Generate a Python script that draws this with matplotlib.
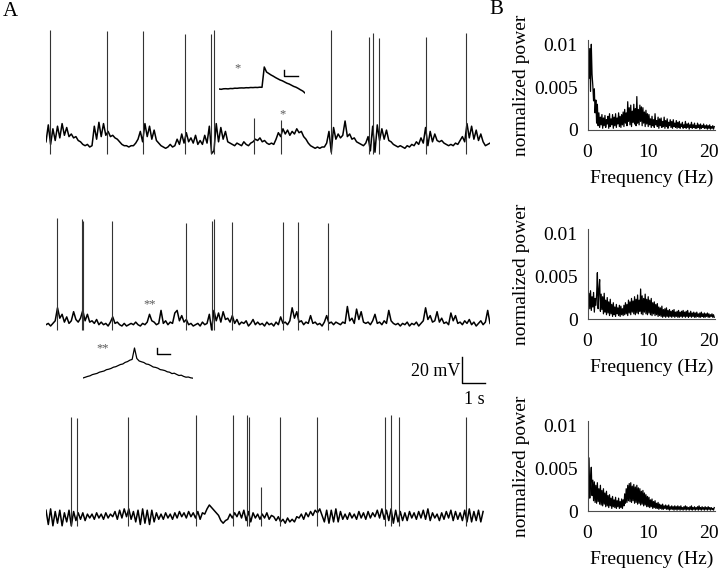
import matplotlib
matplotlib.use("Agg")
import matplotlib.pyplot as plt
import numpy as np

plt.rcParams['font.family'] = ['Liberation Serif', 'DejaVu Serif']

# ---- panel A: membrane potential traces (mV above resting level), 0.1 s samples
trace_dt = 0.1
trace1 = [4, 17, 2, 14, 5, 16, 7, 18, 9, 15,
          8, 10, 7, 8, 5, 4, 2, 1, 2, 0,
          1, 16, 6, 19, 8, 18, 9, 12, 8, 9,
          7, 6, 4, 2, 1, 1, 0, 1, 1, 3,
          6, 12, 4, 18, 8, 16, 6, 13, 5, 3,
          1, 0, -1, 0, 2, 0, 1, 6, 2, 10,
          3, 11, 4, 7, 3, 9, 2, 5, 2, 9,
          3, 16, -5, -3, 18, 4, 15, 6, 12, 4,
          3, 2, 1, 3, 2, 1, 4, 2, 1, 3,
          4, 6, 5, 7, 4, 5, 3, 2, 3, 2,
          6, 11, 8, 14, 10, 13, 9, 12, 10, 14,
          11, 12, 8, 6, 3, 1, 0, -1, 0, -1,
          0, 0, 3, 12, -4, 15, 6, 10, 7, 9,
          20, 8, 10, 6, 7, 4, 3, 2, 1, 3,
          8, -3, 16, -4, 17, 5, 14, 6, 13, 5,
          4, 2, 1, 0, 1, 0, -1, 1, 0, 2,
          1, 4, 2, 7, 3, 15, 1, 12, 4, 10,
          5, 4, 5, 3, 2, 1, 2, 1, 3, 2,
          5, 8, 4, 18, 7, 16, 6, 13, 5, 10,
          4, 1, 2, 3]
trace1_spike_t = [0.17, 2.67, 4.20, 6.06, 7.19, 7.30, 9.04, 10.20, 12.39,
                  14.04, 14.20, 14.47, 16.51, 18.26]
trace1_spike_v = [90, 89, 89, 87, 87, 90, 22, 21, 90, 85, 88, 84, 85, 88]

trace2 = [1, 2, 0, 2, 4, 14, 6, 9, 3, 7,
          2, 4, 11, 5, 3, 6, 12, 4, 9, 3,
          4, 2, 5, 1, 3, 1, 2, 0, 3, 7,
          2, 3, 1, 0, 2, 0, 1, 2, 1, 3,
          1, 0, 2, 1, 3, 9, 4, 3, 1, 2,
          12, 2, 4, 1, 3, 2, 10, 12, 4, 8,
          3, 5, 1, 2, 0, 1, 2, 0, 3, 1,
          2, 9, -3, 12, 4, 10, 3, 11, 5, 6,
          3, 8, 2, 5, 1, 3, 2, 4, 0, 2,
          5, 1, 3, 1, 2, 0, 3, 1, 2, 0,
          3, 1, 7, 2, 3, 1, 4, 14, 6, 11,
          3, 4, 1, 3, 2, 8, 2, 3, 1, 2,
          0, 3, 8, 2, 3, 1, 3, 2, 1, 3,
          2, 15, 4, 6, 2, 13, 5, 11, 3, 2,
          3, 1, 4, 9, 2, 3, 1, 4, 2, 12,
          4, 2, 1, 2, 0, 2, 1, 3, 0, 2,
          1, 3, 0, 2, 4, 14, 5, 8, 3, 4,
          11, 3, 6, 2, 3, 1, 10, 4, 8, 2,
          3, 1, 4, 2, 5, 1, 3, 0, 2, 4,
          1, 3, 12, 2]
trace2_spike_t = [0.46, 1.57, 1.62, 2.88, 6.09, 7.23, 7.32, 8.10, 10.29, 10.94, 12.25]
trace2_spike_v = [83, 82, 81, 81, 79, 81, 82, 80, 80, 80, 79]

trace3 = [6, -5, 7, -6, 5, -4, 6, -6, 4, -3,
          6, -6, 5, -2, 4, -1, 4, -2, 3, 0,
          3, -1, 4, 0, 3, -1, 4, 0, 3, 1,
          5, -1, 6, 0, 7, 1, 7, -1, 5, -3,
          6, -5, 7, -4, 6, -5, 6, -3, 4, -1,
          3, -1, 4, 0, 3, -1, 4, 0, 5, 1,
          4, 0, 5, 1, 4, 0, 5, -1, 4, 3,
          7, 10, 8, 6, 4, 2, -2, -4, -2, -1,
          3, 0, 4, 1, 5, 0, 6, -2, 5, -3,
          4, 0, 3, -1, 3, 0, 4, -1, 2, 1,
          -2, 1, -3, -1, -4, 0, -3, -1, -3, 1,
          0, 3, -1, 4, 1, 5, 2, 6, 4, 7,
          2, -3, 6, -4, 6, -3, 7, -3, 5, -1,
          3, -1, 4, 0, 3, -1, 5, 0, 4, -1,
          5, 0, 4, 1, 6, 0, 7, -1, 6, -2,
          7, -4, 6, -3, 5, -2, 4, -2, 5, 0,
          4, -1, 5, 0, 6, -1, 7, -2, 4, 0,
          3, -2, 4, -1, 5, 0, 6, -2, 5, -1,
          4, -2, 6, -3, 7, -3, 5, -2, 6, -3,
          5]
trace3_spike_t = [1.10, 1.33, 3.57, 6.51, 8.13, 8.72, 8.81, 9.33, 10.19, 11.77,
                  14.74, 15.01, 15.36, 18.25]
trace3_spike_v = [78, 77, 78, 79, 79, 79, 78, 24, 78, 78, 78, 79, 78, 78]

# insets: expanded view of the marked events (arbitrary units)
inset1 = [0, -0.3, 0.2, 0.3, 0.1, 0.5, 0.4, 0.8, 0.7, 1.0,
          1.1, 1.0, 1.3, 1.2, 1.5, 1.4, 1.6, 1.5, 1.8, 1.7,
          22, 17, 15.5, 14, 12.8, 11.4, 10.2, 9.0, 8.2, 7.0,
          5.8, 5.0, 3.8, 2.6, 1.8, 0.6, -0.8, -2.0, -4.0]
inset2 = [0, 0.8, 1.6, 2.2, 3.4, 4.0, 4.6, 5.8, 6.4, 7.0,
          8.3, 8.8, 9.6, 10.8, 11.3, 12.4, 13.5, 14.0, 15.6, 16.4,
          17.8, 18.6, 30, 19.5, 17.0, 16.2, 15.5, 14.0, 13.6, 12.4,
          11.0, 10.6, 9.8, 8.4, 8.0, 7.4, 6.2, 5.8, 4.4, 4.8,
          3.6, 2.5, 2.8, 1.6, 0.8, 1.0, 0.2, -0.2]

# ---- panel B: power spectra (x1e-3), 0.125 Hz bins
freq_step = 0.125
spec1 = [2.0, 10.3, 6.0, 9.5, 4.5, 10.0, 6.5, 5.2, 3.4, 4.8, 2.0, 3.5,
         0.8, 3.0, 0.5, 2.0, 0.3, 1.5, 0.6, 1.8, 0.2, 1.4, 0.5, 1.7,
         0.3, 1.2, 0.7, 1.6, 0.2, 1.9, 0.4, 1.3, 0.6, 1.8, 0.2, 1.5,
         0.5, 1.9, 0.3, 1.4, 0.7, 2.0, 0.4, 1.6, 0.3, 1.8, 0.6, 2.1,
         0.4, 2.4, 0.8, 2.0, 0.5, 3.3, 1.0, 2.6, 0.6, 2.9, 0.4, 2.2,
         0.9, 3.0, 0.7, 2.5, 0.5, 3.9, 0.8, 2.4, 0.6, 2.9, 1.0, 2.7,
         0.5, 2.6, 0.8, 2.1, 0.4, 2.3, 0.7, 1.9,
         0.4, 1.8, 0.6, 1.3, 0.3, 1.6, 0.5, 1.2, 0.3, 1.9, 0.6, 1.1,
         0.4, 1.5, 0.2, 1.3, 0.5, 1.4, 0.3, 1.0, 0.4, 1.5, 0.2, 1.1,
         0.4, 1.3, 0.2, 0.9, 0.5, 1.2, 0.3, 1.0, 0.2, 1.2, 0.4, 0.8,
         0.3, 1.1, 0.2, 0.9,
         0.3, 1.0, 0.2, 0.7, 0.4, 0.9, 0.2, 0.6, 0.3, 1.0, 0.2, 0.7,
         0.3, 0.8, 0.1, 0.6, 0.3, 0.9, 0.2, 0.6, 0.3, 0.8, 0.2, 0.5,
         0.2, 0.8, 0.3, 0.6, 0.1, 0.7, 0.2, 0.5, 0.3, 0.7, 0.2, 0.5,
         0.2, 0.6, 0.1, 0.5, 0.2, 0.6, 0.1, 0.4, 0.2, 0.5, 0.1, 0.4]
spec2 = [4.4, 1.8, 3.0, 1.2, 3.3, 1.0, 2.6, 1.4, 3.1, 0.8, 2.4, 1.6,
         2.8, 5.4, 1.2, 3.4, 4.6, 0.9, 2.9, 1.1, 2.6, 0.6, 3.0, 0.8,
         2.2, 0.5, 2.5, 0.7, 2.0, 0.4, 2.3, 0.6, 1.7, 0.3, 1.9, 0.5,
         1.4, 0.3, 1.7, 0.6, 1.3, 0.4, 1.6, 0.3, 1.5, 0.5, 1.2, 0.4,
         1.6, 0.5, 1.9, 0.6, 1.7, 0.4, 2.2, 0.7, 2.0, 0.5, 2.4, 0.8,
         2.1, 0.6, 2.6, 0.5, 2.3, 0.7, 2.8, 0.6, 2.2, 0.9, 3.5, 0.6,
         2.7, 0.5, 2.4, 0.8, 2.9, 0.6, 2.3, 0.5,
         2.6, 0.7, 2.2, 0.5, 2.4, 0.4, 1.9, 0.6, 2.0, 0.4, 1.7, 0.5,
         1.8, 0.3, 1.4, 0.4, 1.3, 0.3, 1.5, 0.2, 1.1, 0.3, 1.2, 0.2,
         1.3, 0.3, 1.0, 0.2, 1.1, 0.3, 0.9, 0.2, 1.0, 0.3, 1.1, 0.2,
         0.8, 0.3, 0.9, 0.2,
         1.0, 0.2, 0.8, 0.3, 0.9, 0.2, 1.0, 0.3, 0.8, 0.2, 0.9, 0.3,
         1.0, 0.2, 0.7, 0.3, 0.9, 0.2, 0.7, 0.3, 0.8, 0.2, 0.7, 0.2,
         0.8, 0.3, 0.6, 0.2, 0.7, 0.2, 0.8, 0.3, 0.6, 0.2, 0.7, 0.2,
         0.6, 0.3, 0.7, 0.2, 0.6, 0.2, 0.5, 0.3, 0.6, 0.2, 0.5, 0.2]
spec3 = [9.8, 2.5, 6.2, 1.5, 3.8, 5.1, 1.8, 3.6, 1.2, 3.4, 1.0, 3.0,
         0.9, 3.3, 1.1, 2.6, 0.8, 3.0, 0.7, 2.4, 0.6, 2.6, 0.8, 2.1,
         0.5, 2.3, 0.6, 1.8, 0.4, 1.9, 0.6, 1.5, 0.3, 1.7, 0.5, 1.3,
         0.4, 1.6, 0.3, 1.2, 0.5, 1.5, 0.3, 1.1, 0.4, 1.4, 0.3, 1.3,
         0.6, 2.0, 0.9, 2.6, 1.0, 3.0, 1.2, 3.2, 1.1, 3.3, 1.0, 2.9,
         1.2, 3.1, 0.9, 2.8, 1.0, 3.0, 0.8, 2.7, 0.9, 2.6, 0.7, 2.3,
         0.8, 2.4, 0.6, 2.1, 0.7, 1.9, 0.5, 1.7,
         0.5, 1.6, 0.4, 1.3, 0.5, 1.4, 0.3, 1.1, 0.4, 1.2, 0.3, 0.9,
         0.3, 1.0, 0.2, 0.8, 0.3, 0.7, 0.2, 0.8, 0.2, 0.6, 0.3, 0.7,
         0.2, 0.6, 0.2, 0.7, 0.1, 0.5, 0.2, 0.6, 0.2, 0.5, 0.1, 0.6,
         0.2, 0.5, 0.1, 0.6,
         0.2, 0.5, 0.1, 0.6, 0.2, 0.4, 0.1, 0.5, 0.2, 0.6, 0.1, 0.5,
         0.2, 0.4, 0.1, 0.5, 0.2, 0.6, 0.1, 0.4, 0.2, 0.5, 0.1, 0.4,
         0.2, 0.5, 0.1, 0.6, 0.2, 0.4, 0.1, 0.5, 0.2, 0.4, 0.1, 0.5,
         0.2, 0.4, 0.1, 0.5, 0.2, 0.4, 0.1, 0.4, 0.2, 0.3, 0.1, 0.4]

W, H = 720, 569
fig = plt.figure(figsize=(W / 100, H / 100), dpi=100)


def px_axes(left, top, right, bottom):
    # add axes from pixel box of the figure
    return fig.add_axes([left / W, 1 - bottom / H, (right - left) / W, (bottom - top) / H])


# traces: 1.3 px per mV, 23 px per s
trace_rows = [(trace1, trace1_spike_t, trace1_spike_v, 147, -5),
              (trace2, trace2_spike_t, trace2_spike_v, 326, -3),
              (trace3, trace3_spike_t, trace3_spike_v, 518, -6)]
trace_axes = []
for vals, st, sv, base_px, floor in trace_rows:
    ax = px_axes(46, base_px - 96 * 1.3, 490, base_px + 12 * 1.3)
    t = np.arange(len(vals)) * trace_dt
    ax.plot(t, vals, color='black', lw=1.1)
    ax.vlines(st, floor, sv, color='0.2', lw=0.8)
    ax.set_xlim(0, 19.3)
    ax.set_ylim(-12, 96)
    ax.set_axis_off()
    trace_axes.append(ax)

# asterisks marking the expanded events
trace_axes[0].text(10.26, 25, '*', ha='center', va='center', fontsize=9, color='0.35')
trace_axes[1].text(4.52, 17, '**', ha='center', va='center', fontsize=9, color='0.35')

# scale bar 20 mV / 1 s
ax3 = trace_axes[2]
ax3.plot([18.09, 18.09, 19.09], [124, 104, 104], color='black', lw=1.0, clip_on=False)
ax3.text(18.0, 113, '20 mV', ha='right', va='center', fontsize=13)
ax3.text(18.6, 98, '1 s', ha='center', va='top', fontsize=13)

# inset 1
ia = px_axes(219, 60, 305, 100)
ia.plot(np.arange(len(inset1)), inset1, color='black', lw=1.1)
ia.set_xlim(0, len(inset1) - 1)
ia.set_ylim(-11, 29)
ia.set_axis_off()
ia.text(0.21, 0.8, '*', transform=ia.transAxes, ha='center', va='center', fontsize=9, color='0.35')
ia.plot([0.76, 0.76, 0.92], [0.75, 0.6, 0.6], transform=ia.transAxes, color='black', lw=1.0)

# inset 2
ib = px_axes(83, 340, 193, 382)
ib.plot(np.arange(len(inset2)), inset2, color='black', lw=0.9)
ib.set_xlim(0, len(inset2) - 1)
ib.set_ylim(-4, 38)
ib.set_axis_off()
ib.text(0.18, 0.8, '**', transform=ib.transAxes, ha='center', va='center', fontsize=9, color='0.35')
ib.plot([0.67, 0.67, 0.79], [0.81, 0.67, 0.67], transform=ib.transAxes, color='black', lw=1.0)

# ---- panel B
spectra = [(spec1, 40, 130), (spec2, 229, 319), (spec3, 421, 511)]
for spec, top, bottom in spectra:
    ax = px_axes(587.5, top, 715, bottom)
    f = np.arange(len(spec)) * freq_step
    ax.plot(f, np.array(spec) * 1e-3, color='black', lw=0.9)
    ax.set_xlim(0, 21)
    ax.set_ylim(0, 0.0105)
    ax.set_xticks([0, 10, 20])
    ax.set_yticks([0, 0.005, 0.01])
    ax.set_yticklabels(['0', '0.005', '0.01'])
    ax.tick_params(length=0, labelsize=14)
    ax.tick_params(axis='x', pad=10)
    ax.tick_params(axis='y', pad=7)
    for s in ['top', 'right']:
        ax.spines[s].set_visible(False)
    for s in ['left', 'bottom']:
        ax.spines[s].set_linewidth(0.8)
        ax.spines[s].set_color('0.3')
    ax.set_xlabel('Frequency (Hz)', fontsize=14, labelpad=6)
    ax.set_ylabel('normalized power', fontsize=14, labelpad=3)

fig.text(3 / W, 1 - 11 / H, 'A', fontsize=15, va='center', ha='left')
fig.text(489 / W, 1 - 10 / H, 'B', fontsize=15, va='center', ha='left')

fig.savefig('out.png', dpi=100)
